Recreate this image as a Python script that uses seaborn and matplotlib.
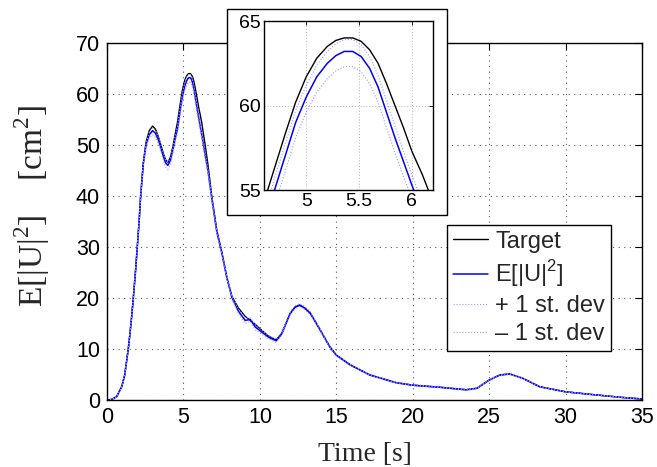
import matplotlib
matplotlib.use('Agg')
import matplotlib.pyplot as plt
import seaborn as sns
from matplotlib.patches import Rectangle

# time axis [s]
t = [0, 0.3, 0.63, 0.96, 1.15, 1.29, 1.39, 1.5, 1.61, 1.72,
     1.87, 1.98, 2.11, 2.2, 2.37, 2.55, 2.76, 2.98, 3.17, 3.36,
     3.52, 3.68, 3.83, 3.98, 4.15, 4.33, 4.5, 4.6, 4.7, 4.8,
     4.9, 5.0, 5.1, 5.2, 5.28, 5.36, 5.44, 5.52, 5.6, 5.68,
     5.76, 5.84, 5.92, 6.0, 6.1, 6.2, 6.3, 6.42, 6.6, 6.85,
     7.18, 7.51, 7.84, 8.17, 8.6, 9.04, 9.37, 9.7, 10.0, 10.57,
     11.07, 11.44, 11.7, 11.99, 12.3, 12.6, 12.95, 13.3, 13.95, 14.56,
     15.0, 15.9, 17.2, 18.9, 20.0, 21.75, 23.5, 24.2, 25.0, 25.7,
     26.35, 27.2, 28.3, 30.0, 31.96, 33.7, 35.0]

target = [0, 0.1, 0.65, 2.6, 4.8, 7.8, 10.0, 13.0, 16.3, 20.0,
          25.5, 30.0, 35.5, 40.0, 46.4, 50.5, 52.8, 53.7, 53.1, 51.6,
          50.0, 48.4, 47.1, 46.6, 47.6, 50.0, 52.8, 54.3, 56.3, 58.3,
          60.2, 61.7, 62.8, 63.5, 63.85, 64.0, 64.0, 63.8, 63.3, 62.5,
          61.3, 60.0, 58.7, 57.3, 55.9, 54.3, 52.3, 50.0, 46.2, 40.0,
          33.3, 29.0, 24.0, 20.3, 18.0, 16.4, 15.6, 14.8, 14.0, 12.5,
          11.8, 13.1, 15.0, 17.0, 18.2, 18.6, 18.0, 17.0, 13.7, 10.5,
          8.8, 6.9, 4.9, 3.4, 2.9, 2.5, 2.0, 2.3, 3.9, 4.9,
          5.1, 4.25, 2.6, 1.6, 1.0, 0.5, 0.2]

mean_u2 = [0, 0.1, 0.65, 2.6, 4.8, 7.8, 10.0, 13.0, 16.3, 20.0,
           25.5, 30.0, 35.5, 40.0, 46.2, 50.0, 52.0, 52.8, 52.3, 51.0,
           49.5, 47.8, 46.5, 46.0, 47.0, 49.4, 51.8, 53.0, 55.0, 57.0,
           59.0, 60.5, 61.7, 62.5, 62.95, 63.2, 63.2, 62.9, 62.2, 61.1,
           59.6, 58.1, 56.7, 55.3, 53.6, 52.0, 50.2, 48.0, 45.0, 39.6,
           33.0, 28.8, 24.0, 20.1, 17.4, 15.6, 15.8, 14.3, 13.6, 12.3,
           11.6, 13.0, 15.0, 17.0, 18.2, 18.6, 18.0, 17.0, 13.7, 10.5,
           8.8, 6.9, 4.9, 3.4, 2.9, 2.5, 2.0, 2.3, 3.9, 4.9,
           5.1, 4.25, 2.6, 1.6, 1.0, 0.5, 0.2]

# distance of the +/- 1 st. dev curves from the mean
dev_hi = [0, 0, 0, 0.05, 0.1, 0.15, 0.2, 0.2, 0.2, 0.2,
          0.2, 0.2, 0.2, 0.2, 0.3, 0.4, 0.5, 0.6, 0.6, 0.6,
          0.6, 0.6, 0.6, 0.6, 0.5, 0.5, 0.5, 0.6, 0.7, 0.7,
          0.7, 0.7, 0.7, 0.7, 0.7, 0.7, 0.7, 0.7, 0.7, 0.7,
          0.7, 0.7, 0.6, 0.6, 0.6, 0.5, 0.5, 0.5, 0.4, 0.4,
          0.4, 0.3, 0.3, 0.3, 0.4, 0.5, 0.3, 0.5, 0.4, 0.3,
          0.3, 0.3, 0.3, 0.3, 0.3, 0.3, 0.3, 0.3, 0.2, 0.2,
          0.2, 0.15, 0.1, 0.1, 0.1, 0.1, 0.1, 0.1, 0.1, 0.1,
          0.1, 0.1, 0.1, 0.05, 0.05, 0.05, 0]
dev_lo = [0, 0, 0, 0.05, 0.1, 0.15, 0.2, 0.2, 0.2, 0.2,
          0.2, 0.2, 0.2, 0.3, 0.4, 0.5, 0.7, 0.8, 0.8, 0.8,
          0.8, 0.8, 0.8, 0.8, 0.8, 0.7, 0.7, 0.8, 0.9, 0.9,
          0.9, 0.9, 0.9, 0.9, 0.9, 0.9, 0.9, 0.9, 0.9, 0.9,
          0.9, 0.9, 0.9, 0.8, 0.8, 0.7, 0.7, 0.6, 0.5, 0.5,
          0.4, 0.4, 0.3, 0.3, 0.5, 0.6, 0.4, 0.6, 0.4, 0.3,
          0.3, 0.3, 0.3, 0.3, 0.3, 0.3, 0.3, 0.3, 0.2, 0.2,
          0.2, 0.15, 0.1, 0.1, 0.1, 0.1, 0.1, 0.1, 0.1, 0.1,
          0.1, 0.1, 0.1, 0.05, 0.05, 0.05, 0]

upper = [m + d for m, d in zip(mean_u2, dev_hi)]
lower = [m - d for m, d in zip(mean_u2, dev_lo)]

xticks_main = [0, 5, 10, 15, 20, 25, 30, 35]
yticks_main = [0, 10, 20, 30, 40, 50, 60, 70]
xticks_zoom = [5, 5.5, 6]
yticks_zoom = [55, 60, 65]

sns.set_theme(style='white')
plt.rcParams['font.family'] = ['Liberation Sans', 'DejaVu Sans']
plt.rcParams['mathtext.fontset'] = 'custom'
plt.rcParams['mathtext.rm'] = 'Liberation Serif'
plt.rcParams['mathtext.sf'] = 'Liberation Sans'
plt.rcParams['axes.edgecolor'] = 'black'
plt.rcParams['axes.linewidth'] = 1.0

STD_COLOR = '#9a9aff'


def draw_curves(ax, with_labels):
    lab = (lambda s: s) if with_labels else (lambda s: None)
    sns.lineplot(x=t, y=target, ax=ax, color='black', lw=1.0,
                 estimator=None, sort=False, label=lab('Target'))
    sns.lineplot(x=t, y=mean_u2, ax=ax, color='#0000ff', lw=1.1,
                 estimator=None, sort=False, label=lab(r'E[|U|$^{\mathsf{2}}$]'))
    sns.lineplot(x=t, y=upper, ax=ax, color=STD_COLOR, lw=0.8, linestyle=':',
                 estimator=None, sort=False, label=lab('+ 1 st. dev'))
    sns.lineplot(x=t, y=lower, ax=ax, color=STD_COLOR, lw=0.8, linestyle=':',
                 estimator=None, sort=False, label=lab('\u2013 1 st. dev'))


fig = plt.figure(figsize=(6.57, 4.67), dpi=100)
ax = fig.add_axes([0.1629, 0.1435, 0.8143, 0.7645])
draw_curves(ax, True)

ax.set_xlim(0, 35)
ax.set_ylim(0, 70)
ax.set_xticks(xticks_main)
ax.set_yticks(yticks_main)
ax.tick_params(direction='in', top=True, right=True, length=5, width=0.8,
               labelsize=15.5, pad=5, colors='black')
ax.grid(True, linestyle=(0, (1, 4)), color='0.35', lw=0.8)
ax.set_xlabel('Time [s]', family='Liberation Serif', fontsize=20)
ax.xaxis.set_label_coords(0.482, -0.117)
ax.set_ylabel(r'E[|U|$^{\mathrm{2}}$]    [cm$^{\mathrm{2}}$]', family='Liberation Serif',
              fontsize=24)
ax.yaxis.set_label_coords(-0.103, 0.542)

leg = ax.legend(loc='lower right', bbox_to_anchor=(0.942, 0.137), fontsize=17,
                frameon=True, fancybox=False, edgecolor='black', framealpha=1,
                handlelength=1.5, handletextpad=0.3, borderpad=0.25,
                labelspacing=0.25, borderaxespad=0)
leg.get_frame().set_linewidth(1.0)

# white frame behind the zoom window
frame = Rectangle((227 / 657, 1 - 215 / 467), 220 / 657, 206 / 467,
                  transform=fig.transFigure, facecolor='white',
                  edgecolor='black', lw=1.0, zorder=2)
fig.patches.append(frame)

axz = fig.add_axes([0.4018, 0.5931, 0.2572, 0.3619], zorder=3)
draw_curves(axz, False)
axz.set_xlim(4.6, 6.2)
axz.set_ylim(55, 65)
axz.set_xticks(xticks_zoom)
axz.set_xticklabels(['5', '5.5', '6'])
axz.set_yticks(yticks_zoom)
axz.tick_params(direction='in', top=True, right=True, length=3, width=0.6,
                labelsize=14, pad=2, colors='black')
axz.grid(True, linestyle=(0, (1, 2)), color='0.7', lw=0.7)

fig.savefig('out.png', dpi=100)
